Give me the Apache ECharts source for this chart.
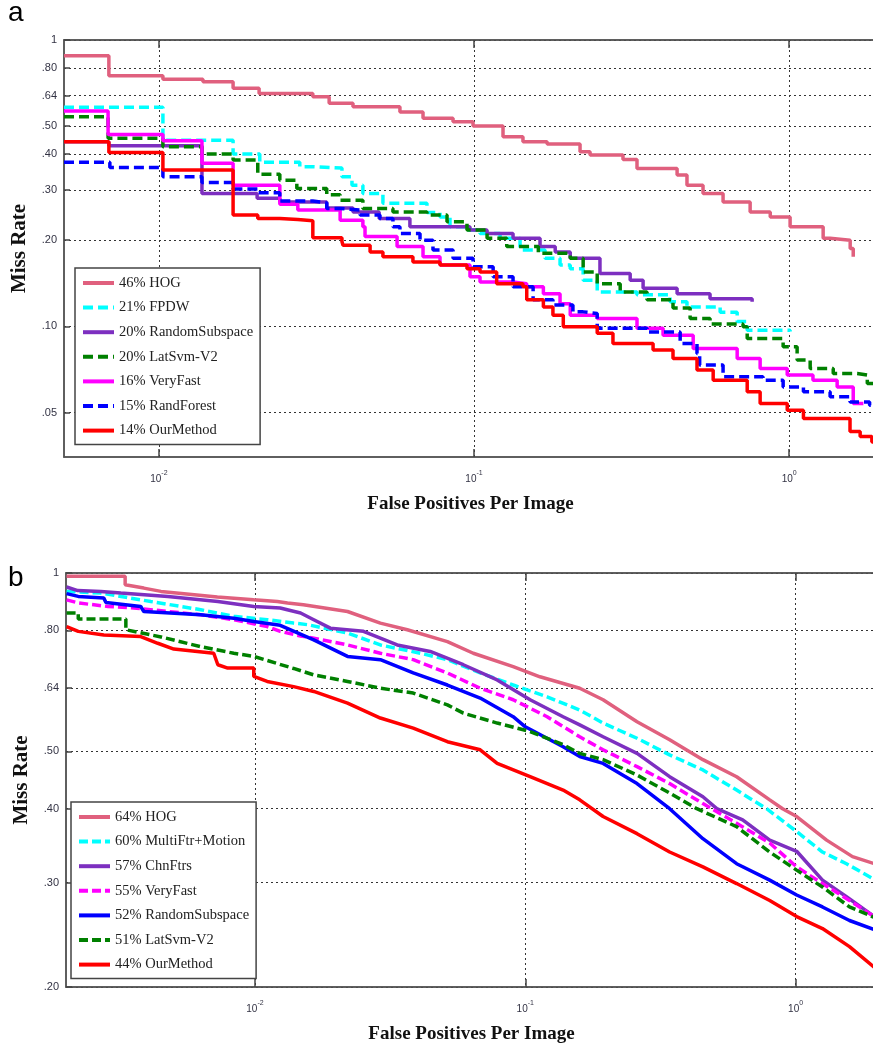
<!DOCTYPE html>
<html>
<head>
<meta charset="utf-8">
<script src="https://cdn.jsdelivr.net/npm/echarts@6/dist/echarts.min.js"></script>
<style>
html,body{margin:0;padding:0;background:#fff;}
#chart{width:873px;height:1051px;}
</style>
</head>
<body>
<div id="chart"></div>
<script>
// ---------------- DATA ----------------
const xTickValues = [0.01, 0.1, 1];
const yTicksA = [0.05, 0.1, 0.2, 0.3, 0.4, 0.5, 0.64, 0.8, 1];
const yTicksB = [0.2, 0.3, 0.4, 0.5, 0.64, 0.8, 1];

const namesA = ['46% HOG', '21% FPDW', '20% RandomSubspace', '20% LatSvm-V2', '16% VeryFast', '15% RandForest', '14% OurMethod'];
const namesB = ['64% HOG', '60% MultiFtr+Motion', '57% ChnFtrs', '55% VeryFast', '52% RandomSubspace', '51% LatSvm-V2', '44% OurMethod'];

// Panel a (staircase curves): [FPPI, miss rate]
const hogA = [[0.005,0.881],[0.00694,0.750],[0.0103,0.729],[0.0138,0.715],[0.0172,0.678],[0.0208,0.651],[0.0308,0.634],[0.0347,0.601],[0.0413,0.585],[0.0582,0.561],[0.0689,0.533],[0.0858,0.518],[0.0993,0.501],[0.1236,0.459],[0.143,0.441],[0.1706,0.433],[0.217,0.407],[0.2335,0.397],[0.297,0.383],[0.329,0.356],[0.441,0.338],[0.474,0.311],[0.533,0.291],[0.617,0.272],[0.752,0.251],[0.871,0.241],[1.007,0.223],[1.282,0.203],[1.349,0.200],[1.562,0.187],[1.597,0.175]];
const fpdwA = [[0.005,0.582],[0.0103,0.447],[0.0172,0.400],[0.0209,0.374],[0.0280,0.361],[0.0308,0.357],[0.0381,0.333],[0.0410,0.311],[0.0444,0.291],[0.0514,0.269],[0.0709,0.250],[0.0780,0.241],[0.0839,0.223],[0.0950,0.217],[0.1045,0.211],[0.121,0.203],[0.140,0.185],[0.168,0.173],[0.1875,0.164],[0.202,0.159],[0.222,0.145],[0.246,0.132],[0.329,0.129],[0.419,0.122],[0.474,0.117],[0.604,0.112],[0.684,0.104],[0.736,0.097],[1.007,0.096]];
const randomSubspaceA = [[0.005,0.441],[0.00694,0.427],[0.0137,0.291],[0.0205,0.280],[0.0242,0.272],[0.0341,0.259],[0.0413,0.251],[0.050,0.238],[0.0626,0.223],[0.0971,0.217],[0.110,0.211],[0.133,0.203],[0.162,0.190],[0.181,0.182],[0.202,0.173],[0.251,0.153],[0.313,0.145],[0.344,0.136],[0.441,0.130],[0.561,0.125],[0.763,0.122]];
const latSvmA = [[0.005,0.540],[0.0069,0.454],[0.0103,0.424],[0.0137,0.400],[0.0172,0.381],[0.0206,0.340],[0.0242,0.324],[0.0274,0.303],[0.0341,0.288],[0.0376,0.276],[0.0444,0.258],[0.0553,0.251],[0.0709,0.245],[0.0821,0.232],[0.0950,0.217],[0.110,0.203],[0.127,0.190],[0.160,0.180],[0.202,0.173],[0.222,0.155],[0.246,0.141],[0.291,0.132],[0.354,0.124],[0.428,0.116],[0.485,0.1066],[0.561,0.102],[0.714,0.0997],[0.736,0.0908],[0.957,0.0849],[1.06,0.0763],[1.166,0.0713],[1.38,0.0685],[1.644,0.0676],[1.77,0.0632],[1.9,0.0632]];
const veryFastA = [[0.005,0.565],[0.0069,0.468],[0.0103,0.445],[0.0137,0.371],[0.0172,0.311],[0.0242,0.267],[0.0276,0.255],[0.0376,0.235],[0.0444,0.223],[0.0451,0.206],[0.057,0.190],[0.0689,0.175],[0.078,0.164],[0.0971,0.149],[0.1045,0.143],[0.133,0.141],[0.147,0.1375],[0.166,0.130],[0.1875,0.120],[0.202,0.1095],[0.246,0.1066],[0.329,0.0985],[0.398,0.0932],[0.496,0.0838],[0.684,0.0773],[0.809,0.0713],[0.986,0.0676],[1.19,0.0649],[1.42,0.0615],[1.597,0.0538],[1.72,0.0538]];
const randForestA = [[0.005,0.374],[0.00699,0.359],[0.0103,0.333],[0.0137,0.318],[0.0172,0.302],[0.0206,0.293],[0.0242,0.274],[0.0308,0.270],[0.0341,0.258],[0.0376,0.255],[0.0435,0.245],[0.0503,0.238],[0.0553,0.223],[0.0582,0.211],[0.0674,0.200],[0.0741,0.185],[0.0858,0.173],[0.0993,0.1615],[0.115,0.149],[0.133,0.1375],[0.154,0.124],[0.178,0.1187],[0.206,0.1124],[0.222,0.111],[0.246,0.0985],[0.354,0.0957],[0.451,0.0872],[0.510,0.0805],[0.520,0.0733],[0.617,0.0667],[0.826,0.0649],[0.957,0.0615],[1.11,0.0591],[1.349,0.0568],[1.56,0.0545],[1.80,0.0531],[1.9,0.0531]];
const ourMethodA = [[0.005,0.441],[0.00694,0.405],[0.0103,0.352],[0.0172,0.245],[0.0206,0.238],[0.0242,0.236],[0.0276,0.234],[0.0308,0.204],[0.0381,0.198],[0.0384,0.192],[0.0468,0.182],[0.0514,0.175],[0.064,0.168],[0.078,0.164],[0.095,0.159],[0.1045,0.155],[0.118,0.141],[0.143,0.1375],[0.147,0.124],[0.166,0.117],[0.178,0.1095],[0.192,0.0997],[0.246,0.0946],[0.276,0.0872],[0.370,0.0827],[0.428,0.0773],[0.510,0.0704],[0.574,0.0649],[0.736,0.0591],[0.809,0.0538],[0.986,0.051],[1.11,0.0477],[1.56,0.0430],[1.68,0.0413],[1.83,0.0395],[1.9,0.0395]];

// Panel b (dense curves): [FPPI, miss rate]
const hogB = [[0.00201,0.987],[0.00331,0.987],[0.00331,0.955],[0.00388,0.943],[0.00449,0.931],[0.00726,0.911],[0.00989,0.901],[0.0121,0.895],[0.0132,0.890],[0.0151,0.884],[0.0220,0.861],[0.0291,0.823],[0.0366,0.802],[0.0515,0.766],[0.0642,0.732],[0.0902,0.695],[0.1133,0.668],[0.159,0.639],[0.194,0.611],[0.259,0.561],[0.342,0.523],[0.454,0.484],[0.605,0.453],[0.802,0.414],[0.895,0.400],[1.009,0.388],[1.302,0.354],[1.623,0.332],[2,0.322]];
const multiFtrB = [[0.00201,0.931],[0.00269,0.925],[0.00412,0.895],[0.0063,0.867],[0.00835,0.845],[0.0111,0.834],[0.0139,0.823],[0.01565,0.818],[0.022,0.792],[0.0291,0.756],[0.0409,0.732],[0.0515,0.714],[0.0681,0.678],[0.0902,0.647],[0.1204,0.618],[0.159,0.587],[0.194,0.558],[0.259,0.526],[0.342,0.493],[0.454,0.465],[0.605,0.430],[0.781,0.400],[1.009,0.366],[1.257,0.338],[1.542,0.323],[2,0.302]];
const chnFtrsB = [[0.00201,0.947],[0.00221,0.934],[0.00269,0.931],[0.00319,0.925],[0.00476,0.913],[0.00729,0.895],[0.0099,0.878],[0.0124,0.873],[0.01475,0.856],[0.0165,0.834],[0.019,0.807],[0.0252,0.797],[0.0336,0.756],[0.0445,0.737],[0.059,0.700],[0.0787,0.660],[0.1042,0.611],[0.138,0.572],[0.159,0.554],[0.194,0.529],[0.259,0.496],[0.342,0.453],[0.454,0.419],[0.511,0.400],[0.637,0.383],[0.802,0.354],[1.009,0.339],[1.257,0.303],[1.542,0.284],[2,0.261]];
const veryFastB = [[0.00201,0.901],[0.00222,0.890],[0.00286,0.878],[0.00356,0.873],[0.0063,0.850],[0.00835,0.834],[0.0111,0.812],[0.0124,0.797],[0.01475,0.783],[0.0165,0.776],[0.022,0.756],[0.0291,0.732],[0.0385,0.714],[0.0515,0.678],[0.0681,0.639],[0.0902,0.611],[0.1204,0.572],[0.159,0.529],[0.194,0.503],[0.259,0.471],[0.342,0.441],[0.454,0.408],[0.605,0.378],[0.802,0.350],[1.009,0.319],[1.257,0.299],[1.582,0.280],[2,0.261]];
const randomSubspaceB = [[0.00201,0.923],[0.00222,0.913],[0.00276,0.907],[0.00281,0.892],[0.00378,0.878],[0.00388,0.861],[0.0063,0.850],[0.00835,0.839],[0.0099,0.828],[0.0124,0.816],[0.0165,0.771],[0.022,0.723],[0.0291,0.714],[0.0385,0.678],[0.0515,0.647],[0.0681,0.615],[0.0902,0.572],[0.100,0.550],[0.138,0.509],[0.159,0.490],[0.194,0.477],[0.259,0.441],[0.342,0.400],[0.454,0.356],[0.605,0.323],[0.802,0.303],[1.009,0.286],[1.257,0.273],[1.582,0.259],[2,0.249]];
const latSvmB = [[0.00201,0.856],[0.00222,0.856],[0.00222,0.836],[0.00333,0.836],[0.00333,0.802],[0.00449,0.780],[0.0063,0.751],[0.00835,0.732],[0.0099,0.723],[0.0139,0.690],[0.0165,0.673],[0.022,0.656],[0.0291,0.639],[0.0385,0.627],[0.0515,0.599],[0.059,0.580],[0.0787,0.558],[0.1042,0.540],[0.138,0.513],[0.159,0.496],[0.194,0.484],[0.259,0.456],[0.342,0.425],[0.431,0.400],[0.605,0.373],[0.802,0.338],[1.009,0.315],[1.257,0.295],[1.582,0.273],[2,0.261]];
const ourMethodB = [[0.00201,0.812],[0.00222,0.797],[0.00276,0.786],[0.00378,0.781],[0.00437,0.761],[0.00501,0.744],[0.00704,0.732],[0.00729,0.700],[0.00793,0.691],[0.0099,0.691],[0.0099,0.669],[0.0111,0.656],[0.0139,0.643],[0.0165,0.631],[0.022,0.603],[0.0291,0.569],[0.0385,0.547],[0.0515,0.519],[0.0681,0.503],[0.0787,0.477],[0.1042,0.453],[0.138,0.430],[0.159,0.414],[0.194,0.388],[0.259,0.363],[0.342,0.338],[0.454,0.319],[0.605,0.299],[0.802,0.280],[1.009,0.263],[1.257,0.251],[1.582,0.234],[2,0.214]];

const dataA = [hogA, fpdwA, randomSubspaceA, latSvmA, veryFastA, randForestA, ourMethodA];
const dataB = [hogB, multiFtrB, chnFtrsB, veryFastB, randomSubspaceB, latSvmB, ourMethodB];

// ---------------- STYLE ----------------
const C = {hog:'#e0607e', cyan:'#00ffff', purple:'#7d2fc0', green:'#008000', magenta:'#ff00ff', blue:'#0000ff', red:'#ff0000'};
const dashA = [10,5], dashB = [9,4];
const styleA = [[C.hog,'solid'],[C.cyan,dashA],[C.purple,'solid'],[C.green,dashA],[C.magenta,'solid'],[C.blue,dashA],[C.red,'solid']];
const styleB = [[C.hog,'solid'],[C.cyan,dashB],[C.purple,'solid'],[C.magenta,dashB],[C.blue,'solid'],[C.green,dashB],[C.red,'solid']];

const tickFont = 'Liberation Sans, Arial, sans-serif';
const serif = 'Liberation Serif, "Times New Roman", serif';
const gridLine = {show:true, lineStyle:{color:'#333', width:1, type:[2,3]}};
const axisLineStyle = {show:true, lineStyle:{color:'#555', width:1.5}};

function fmtX(v){ const e = Math.round(Math.log10(v)); return '{b|10}{s|' + e + '}'; }
function fmtY(v){ if (v > 0.999) return '1'; return '.' + String(Math.round(v*100)).padStart(2,'0'); }

function xAxes(grid, min, max){
  return [{
    type:'log', logBase:10, gridIndex:grid, min:min, max:max, position:'bottom',
    axisLine:axisLineStyle,
    axisTick:{show:true, inside:true, length:8, customValues:xTickValues, lineStyle:{color:'#444', width:1.5}},
    axisLabel:{show:true, customValues:xTickValues, formatter:fmtX, margin:13,
      rich:{b:{fontFamily:tickFont, fontSize:10, color:'#334', lineHeight:14, verticalAlign:'bottom'},
            s:{fontFamily:tickFont, fontSize:7, color:'#334', lineHeight:8, verticalAlign:'top'}}},
    splitLine:gridLine, minorTick:{show:false}, minorSplitLine:{show:false},
    name:'False Positives Per Image', nameLocation:'middle', nameGap:38,
    nameTextStyle:{fontFamily:serif, fontWeight:'bold', fontSize:19, color:'#111'}
  },{
    type:'log', logBase:10, gridIndex:grid, min:min, max:max, position:'top',
    axisLine:axisLineStyle,
    axisTick:{show:true, inside:true, length:8, customValues:xTickValues, lineStyle:{color:'#444', width:1.5}},
    axisLabel:{show:false}, splitLine:{show:false}
  }];
}
function yAxis(grid, min, max, ticks){
  return {
    type:'log', logBase:10, gridIndex:grid, min:min, max:max, position:'left',
    axisLine:axisLineStyle,
    axisTick:{show:true, inside:true, length:6, customValues:ticks, lineStyle:{color:'#444', width:1.5}},
    axisLabel:{show:true, customValues:ticks, formatter:fmtY, margin:7, fontFamily:tickFont, fontSize:11, color:'#334'},
    splitLine:gridLine, minorTick:{show:false}, minorSplitLine:{show:false},
    name:'Miss Rate', nameLocation:'middle', nameGap:34,
    nameTextStyle:{fontFamily:serif, fontWeight:'bold', fontSize:21, color:'#111'}
  };
}
function mkSeries(names, data, styles, xi, yi, step){
  return names.map((n, i) => ({
    name:n, type:'line', xAxisIndex:xi, yAxisIndex:yi, data:data[i],
    step: step ? 'end' : false, symbol:'none', showSymbol:false, silent:true,
    lineStyle:{color:styles[i][0], width:3.5, type:styles[i][1]},
    itemStyle:{color:styles[i][0]}, z:2+i
  }));
}
function mkLegend(names, left, top){
  return {
    data:names, orient:'vertical', left:left, top:top, selectedMode:false,
    itemWidth:31, itemHeight:14, itemGap:6.6,
    padding:[6,7,5,6], backgroundColor:'#fff', borderColor:'#444', borderWidth:1.5, borderRadius:0,
    itemStyle:{color:'rgba(0,0,0,0)', borderColor:'rgba(0,0,0,0)', borderWidth:0, opacity:0},
    lineStyle:{width:4},
    textStyle:{fontFamily:serif, fontSize:14.5, color:'#222', lineHeight:18}
  };
}

const chart = echarts.init(document.getElementById('chart'), null, {renderer:'canvas'});
chart.setOption({
  animation:false,
  backgroundColor:'#fff',
  title:[
    {text:'a', left:8, top:-1, padding:0, textStyle:{fontFamily:tickFont, fontSize:28, fontWeight:'normal', color:'#000'}},
    {text:'b', left:8, top:564, padding:0, textStyle:{fontFamily:tickFont, fontSize:28, fontWeight:'normal', color:'#000'}}
  ],
  grid:[
    {left:64, top:40, right:-4, height:417, show:true, borderColor:'#555', borderWidth:1.5, outerBoundsMode:'none', containLabel:false},
    {left:66, top:573, right:-4, height:414, show:true, borderColor:'#555', borderWidth:1.5, outerBoundsMode:'none', containLabel:false}
  ],
  xAxis:[].concat(xAxes(0, 0.005, 1.9), xAxes(1, 0.002, 2)),
  yAxis:[yAxis(0, 0.035, 1, yTicksA), yAxis(1, 0.2, 1, yTicksB)],
  legend:[mkLegend(namesA, 75, 268), mkLegend(namesB, 71, 802)],
  series:[].concat(mkSeries(namesA, dataA, styleA, 0, 0, true), mkSeries(namesB, dataB, styleB, 2, 1, false))
});
</script>
</body>
</html>
